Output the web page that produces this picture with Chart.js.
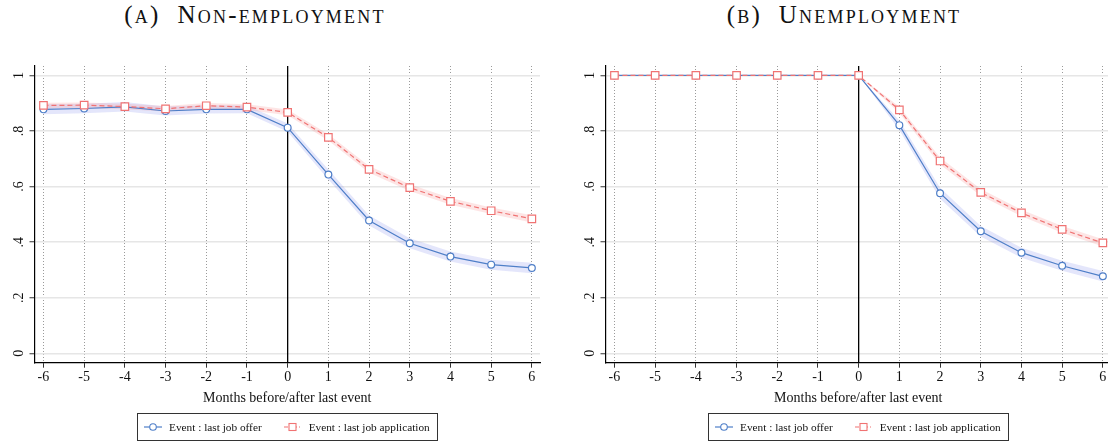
<!DOCTYPE html>
<html>
<head>
<meta charset="utf-8">
<script src="https://cdn.jsdelivr.net/npm/chart.js@4.4.1/dist/chart.umd.min.js"></script>
<style>
  html, body { margin: 0; padding: 0; background: #fff; }
  body { width: 1108px; height: 443px; overflow: hidden; position: relative; font-family: "Liberation Serif", "Times New Roman", serif; }
  .panel { position: absolute; top: 0; width: 554px; height: 443px; }
  .title { position: absolute; top: 2px; font-size: 25px; line-height: 25px; font-variant: small-caps; letter-spacing: 2.2px; text-align: center; color: #111; white-space: pre; }
  .legend { position: absolute; left: 137px; top: 413px; width: 299px; height: 26px; border: 1px solid #333; box-sizing: content-box;
            display: flex; align-items: center; font-size: 11.3px; color: #111; }
  .legend span { display: inline-flex; align-items: center; }
  .legend svg { margin-right: 7px; }
</style>
</head>
<body>
<div class="title" style="left:0;width:510px;">(a)  Non-employment</div>
<div class="title" style="left:594px;width:500px;">(b)  Unemployment</div>

<div class="panel" style="left:0;">
  <canvas id="chart-a" width="554" height="443"></canvas>
  <div class="legend">
    <span style="margin-left:6px;"><svg width="18" height="10"><line x1="0" y1="5" x2="18" y2="5" stroke="#4f7fc8" stroke-width="1.2"/><circle cx="9" cy="5" r="3.3" fill="#fff" stroke="#4f7fc8" stroke-width="1.1"/></svg>Event : last job offer</span>
    <span style="margin-left:22px;"><svg width="18" height="10"><line x1="0" y1="5" x2="18" y2="5" stroke="#f07373" stroke-width="1.2" stroke-dasharray="4 2 1 2"/><rect x="5" y="1.5" width="7" height="7" fill="#fff" stroke="#f07373" stroke-width="1.1"/></svg>Event : last job application</span>
  </div>
</div>

<div class="panel" style="left:571px;">
  <canvas id="chart-b" width="554" height="443"></canvas>
  <div class="legend">
    <span style="margin-left:6px;"><svg width="18" height="10"><line x1="0" y1="5" x2="18" y2="5" stroke="#4f7fc8" stroke-width="1.2"/><circle cx="9" cy="5" r="3.3" fill="#fff" stroke="#4f7fc8" stroke-width="1.1"/></svg>Event : last job offer</span>
    <span style="margin-left:22px;"><svg width="18" height="10"><line x1="0" y1="5" x2="18" y2="5" stroke="#f07373" stroke-width="1.2" stroke-dasharray="4 2 1 2"/><rect x="5" y="1.5" width="7" height="7" fill="#fff" stroke="#f07373" stroke-width="1.1"/></svg>Event : last job application</span>
  </div>
</div>

<script>
const months = [-6, -5, -4, -3, -2, -1, 0, 1, 2, 3, 4, 5, 6];
const yTicks = [0, 0.2, 0.4, 0.6, 0.8, 1];
const yTickLabels = ["0", ".2", ".4", ".6", ".8", "1"];

// (A) non-employment
const offerNonEmp   = [0.878, 0.881, 0.887, 0.872, 0.878, 0.878, 0.812, 0.643, 0.478, 0.396, 0.348, 0.319, 0.307];
const offerNonEmpLo = [0.860, 0.864, 0.870, 0.856, 0.863, 0.864, 0.797, 0.625, 0.460, 0.378, 0.330, 0.301, 0.288];
const offerNonEmpHi = [0.896, 0.898, 0.904, 0.888, 0.893, 0.892, 0.827, 0.661, 0.496, 0.414, 0.366, 0.337, 0.326];
const appNonEmp     = [0.892, 0.893, 0.888, 0.880, 0.891, 0.886, 0.867, 0.777, 0.662, 0.596, 0.547, 0.513, 0.484];
const appNonEmpLo   = [0.882, 0.883, 0.878, 0.870, 0.881, 0.876, 0.857, 0.766, 0.650, 0.584, 0.535, 0.501, 0.471];
const appNonEmpHi   = [0.902, 0.903, 0.898, 0.890, 0.901, 0.896, 0.877, 0.788, 0.674, 0.608, 0.559, 0.525, 0.497];

// (B) unemployment
const offerUnemp   = [1, 1, 1, 1, 1, 1, 1, 0.821, 0.576, 0.439, 0.362, 0.315, 0.277];
const offerUnempLo = [1, 1, 1, 1, 1, 1, 1, 0.804, 0.556, 0.420, 0.344, 0.297, 0.258];
const offerUnempHi = [1, 1, 1, 1, 1, 1, 1, 0.838, 0.596, 0.458, 0.380, 0.333, 0.296];
const appUnemp     = [1, 1, 1, 1, 1, 1, 1, 0.876, 0.692, 0.579, 0.505, 0.446, 0.397];
const appUnempLo   = [1, 1, 1, 1, 1, 1, 1, 0.865, 0.679, 0.567, 0.493, 0.434, 0.384];
const appUnempHi   = [1, 1, 1, 1, 1, 1, 1, 0.887, 0.705, 0.591, 0.517, 0.458, 0.410];

const blue = "#4f7fc8";
const red = "#f07373";

Chart.defaults.font.family = '"Liberation Serif", "Times New Roman", serif';
Chart.defaults.font.size = 14;
Chart.defaults.color = "#111";

function toPoints(vals) {
    return months.map((m, i) => ({ x: m, y: vals[i] }));
}

// black vertical line at month 0
const zeroLine = {
    id: "zeroLine",
    beforeDatasetsDraw(chart) {
        const x = chart.scales.x.getPixelForValue(0);
        const area = chart.chartArea;
        const ctx = chart.ctx;
        ctx.save();
        ctx.strokeStyle = "#000";
        ctx.lineWidth = 1.3;
        ctx.beginPath();
        ctx.moveTo(x, area.top);
        ctx.lineTo(x, area.bottom);
        ctx.stroke();
        ctx.restore();
    }
};

function band(vals, color, order, fill) {
    return {
        data: toPoints(vals),
        borderWidth: 0,
        pointRadius: 0,
        backgroundColor: color,
        fill: fill,
        order: order,
        tension: 0
    };
}

function makeChart(id, offer, offerLo, offerHi, app, appLo, appHi) {
    new Chart(document.getElementById(id), {
        type: "line",
        data: {
            datasets: [
                band(offerHi, "rgba(120,130,235,0.2)", 3, "+1"),
                band(offerLo, "rgba(120,130,235,0.2)", 3, false),
                band(appHi, "rgba(245,110,110,0.18)", 2, "+1"),
                band(appLo, "rgba(245,110,110,0.18)", 2, false),
                {
                    label: "Event : last job offer",
                    data: toPoints(offer),
                    borderColor: blue,
                    borderWidth: 1.2,
                    pointStyle: "circle",
                    pointRadius: 3.4,
                    pointBorderWidth: 1.2,
                    pointBackgroundColor: "#fff",
                    pointBorderColor: blue,
                    fill: false,
                    order: 1
                },
                {
                    label: "Event : last job application",
                    data: toPoints(app),
                    borderColor: red,
                    borderWidth: 1.2,
                    borderDash: [5, 3],
                    pointStyle: "rect",
                    pointRadius: 5.3,
                    pointBorderWidth: 1.2,
                    pointBackgroundColor: "#fff",
                    pointBorderColor: red,
                    fill: false,
                    order: 0
                }
            ]
        },
        options: {
            responsive: false,
            animation: false,
            layout: { padding: { left: 0, right: 14, top: 66, bottom: 35.3 } },
            plugins: {
                legend: { display: false },
                tooltip: { enabled: false }
            },
            scales: {
                x: {
                    type: "linear",
                    min: -6.22,
                    max: 6.2,
                    afterBuildTicks: (s) => { s.ticks = months.map(v => ({ value: v })); },
                    afterFit: (s) => { s.height = 45; },
                    grid: { color: "#9a9a9a", lineWidth: 1, tickLength: 5, tickColor: "#333" },
                    border: { color: "#000", width: 1.2, dash: [1, 2] },
                    ticks: { padding: 1, maxRotation: 0, font: { size: 14 } },
                    title: { display: true, text: "Months before/after last event", font: { size: 14 }, padding: { top: 0, bottom: 1 } }
                },
                y: {
                    min: -0.034,
                    max: 1.034,
                    afterBuildTicks: (s) => { s.ticks = yTicks.map(v => ({ value: v })); },
                    afterFit: (s) => { s.width = 34.5; },
                    grid: { color: "#e6e6e6", lineWidth: 1.5, tickLength: 5, tickColor: "#333", tickWidth: 1 },
                    border: { color: "#000", width: 1.2 },
                    ticks: {
                        minRotation: 90,
                        maxRotation: 90,
                        crossAlign: "center",
                        padding: 5,
                        font: { size: 14 },
                        callback: (v, i) => yTickLabels[i]
                    }
                }
            }
        },
        plugins: [zeroLine]
    });
}

makeChart("chart-a", offerNonEmp, offerNonEmpLo, offerNonEmpHi, appNonEmp, appNonEmpLo, appNonEmpHi);
makeChart("chart-b", offerUnemp, offerUnempLo, offerUnempHi, appUnemp, appUnempLo, appUnempHi);
</script>
</body>
</html>
